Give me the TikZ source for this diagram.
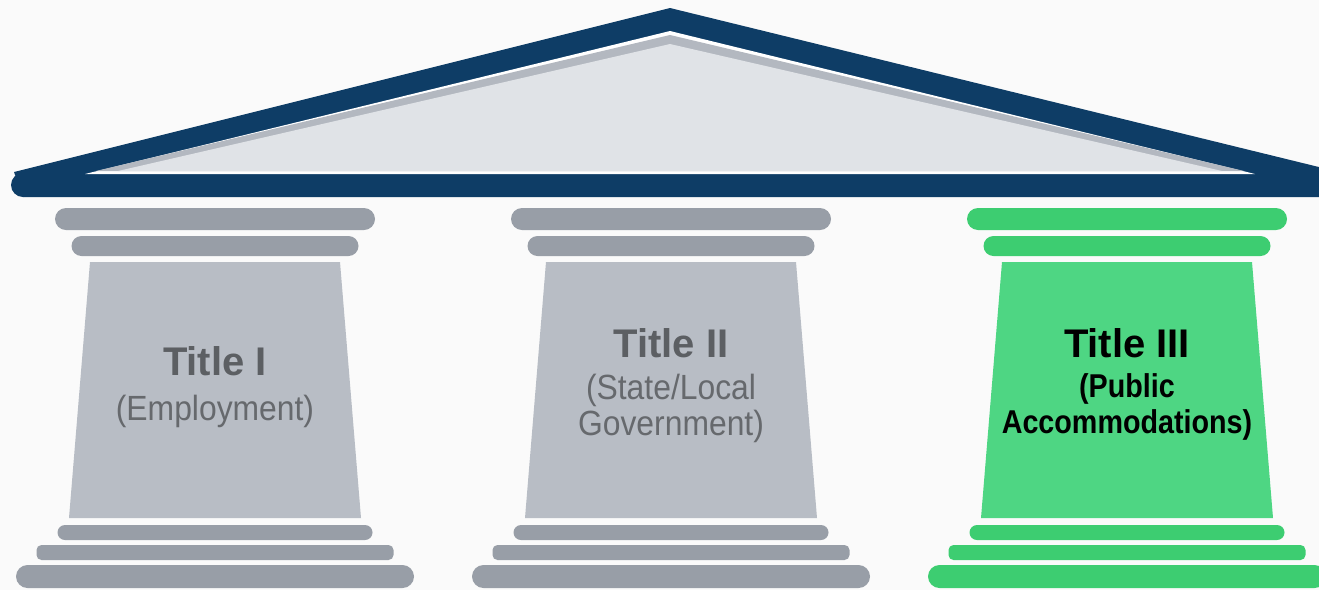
\documentclass[tikz,border=0pt]{standalone}
\usepackage{fontspec}
\setmainfont{Liberation Sans}
\definecolor{bgpaper}{HTML}{FAFAFA}
\definecolor{roofnavy}{HTML}{0E3D66}
\definecolor{roofface}{HTML}{E0E3E7}
\definecolor{roofrim}{HTML}{B3B8C0}
\definecolor{stonebar}{HTML}{989EA7}
\definecolor{stoneshaft}{HTML}{B8BDC5}
\definecolor{greenbar}{HTML}{3DCD71}
\definecolor{greenshaft}{HTML}{4ED683}
\definecolor{graytext}{HTML}{5C5F63}
\definecolor{graysub}{HTML}{66696D}
\tikzset{
  titletext/.style={font=\fontsize{40}{40}\selectfont\bfseries, anchor=base},
  subtext/.style={font=\fontsize{35}{35}\selectfont, anchor=base, xscale=0.91},
  subbold/.style={font=\fontsize{33}{33}\selectfont\bfseries, anchor=base, xscale=0.87},
}
% one column: capital, tapered shaft and stepped base, centred on #1
\newcommand{\drawcolumn}[3]{%
  \fill[#2, rounded corners=11] (#1-160,208) rectangle (#1+160,230);
  \fill[#2, rounded corners=10] (#1-143.5,236) rectangle (#1+143.5,256);
  \fill[#3] (#1-125,262) -- (#1+125,262) -- (#1+146,518) -- (#1-146,518) -- cycle;
  \fill[#2, rounded corners=7.5] (#1-157.5,525) rectangle (#1+157.5,540);
  \fill[#2, rounded corners=5] (#1-178.5,545) rectangle (#1+178.5,560);
  \fill[#2, rounded corners=11.5] (#1-199,565) rectangle (#1+199,588);
}
\begin{document}
\begin{tikzpicture}[x=1pt,y=-1pt]
  \useasboundingbox (0,0) rectangle (1319,590);
  \clip (0,0) rectangle (1319,590);
  \fill[bgpaper] (0,0) rectangle (1319,590);

  % roof: navy frame with a rounded left tip, thin white gap,
  % grey pediment face with a darker rim under the sloping edges
  \fill[roofnavy] (670,8) -- (1380,182) -- (1380,197) -- (23,197) -- (14,172) -- cycle;
  \fill[roofnavy] (23,185) circle[radius=12];
  \fill[white] (85,174) -- (670,31) -- (1255,174) -- cycle;
  \fill[roofrim] (96,171) -- (670,35) -- (1244,171) -- cycle;
  \fill[roofface] (118,171) -- (670,44) -- (1222,171) -- cycle;

  % the three columns
  \drawcolumn{215}{stonebar}{stoneshaft}
  \drawcolumn{671}{stonebar}{stoneshaft}
  \drawcolumn{1127}{greenbar}{greenshaft}

  % labels
  \node[titletext, text=graytext] (t1) at (215,375) {Title I};
  \node[subtext, text=graysub] (s1) at (215,420) {(Employment)};

  \node[titletext, text=graytext] (t2) at (671,357) {Title II};
  \node[subtext, text=graysub] (s2a) at (671,399) {(State/Local};
  \node[subtext, text=graysub] (s2b) at (671,435) {Government)};

  \node[titletext, text=black] (t3) at (1127,357) {Title III};
  \node[subbold, text=black] (s3a) at (1127,397) {(Public};
  \node[subbold, text=black] (s3b) at (1127,433) {Accommodations)};
\end{tikzpicture}
\end{document}
